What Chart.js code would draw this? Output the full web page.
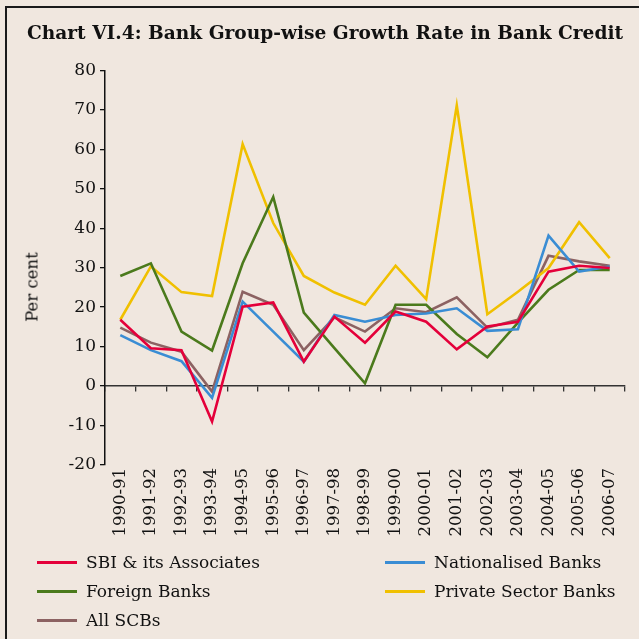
<!DOCTYPE html>
<html><head><meta charset="utf-8">
<script src="https://cdn.jsdelivr.net/npm/chart.js@4"></script>
<style>
html,body{margin:0;padding:0;background:#F0E7DF;}
#wrap{position:relative;width:639px;height:639px;overflow:hidden;background:#F0E7DF;}
#frame{position:absolute;left:5px;top:6px;width:700px;height:700px;border-top:2px solid #1a1a1a;border-left:2px solid #1a1a1a;}
canvas{position:absolute;left:0;top:0;}
#ytitle{position:absolute;left:32px;top:287px;transform:translate(-50%,-50%) rotate(-90deg);font:16.5px 'DejaVu Serif';color:#111;white-space:nowrap;}
.leg{position:absolute;font:17px 'DejaVu Serif';color:#111;white-space:nowrap;display:flex;align-items:center;height:24px;}
.leg .l{display:inline-block;width:40px;height:3px;margin-right:9px;}
</style></head>
<body>
<div id="wrap">
<div id="frame"></div>
<canvas id="c" width="639" height="639"></canvas>
<div id="ytitle">Per cent</div>
<div id="legend"></div>
</div>
<script>
const categories = ['1990-91','1991-92','1992-93','1993-94','1994-95','1995-96','1996-97','1997-98','1998-99','1999-00','2000-01','2001-02','2002-03','2003-04','2004-05','2005-06','2006-07'];
const sbi          = [16.8, 9.6, 9.1, -9.0, 20.1, 21.2, 6.2, 17.6, 11.0, 18.9, 16.3, 9.3, 15.1, 16.3, 29.0, 30.5, 29.9];
const nationalised = [12.9, 9.1, 6.3, -3.0, 21.4, 13.8, 6.2, 18.0, 16.3, 18.0, 18.4, 19.7, 14.0, 14.4, 38.1, 29.0, 30.3];
const foreign      = [27.9, 31.1, 13.8, 9.0, 31.1, 47.9, 18.6, 9.6, 0.7, 20.6, 20.6, 13.2, 7.3, 16.1, 24.4, 29.4, 29.4];
const privateSector= [16.8, 30.3, 23.8, 22.8, 61.3, 41.3, 27.9, 23.7, 20.6, 30.5, 22.0, 71.1, 18.2, 23.9, 29.9, 41.5, 32.4];
const allSCBs      = [14.8, 11.0, 8.7, -1.4, 23.9, 20.6, 9.1, 17.4, 13.8, 19.7, 18.7, 22.5, 14.8, 16.8, 33.0, 31.6, 30.5];
const yMin = -20, yMax = 80, yStep = 10;
const titleText = 'Chart VI.4: Bank Group-wise Growth Rate in Bank Credit';

const series = [
  {name:'SBI & its Associates', data:sbi, color:'#E4003A'},
  {name:'Nationalised Banks', data:nationalised, color:'#3A8DD4'},
  {name:'Foreign Banks', data:foreign, color:'#4B7A1C'},
  {name:'Private Sector Banks', data:privateSector, color:'#F0C000'},
  {name:'All SCBs', data:allSCBs, color:'#8C6262'}
];

const font = 'DejaVu Serif';
new Chart(document.getElementById('c'), {
  type:'line',
  data:{
    labels:categories,
    datasets: series.map(s=>({label:s.name,data:s.data,borderColor:s.color,backgroundColor:s.color,borderWidth:2.6,pointRadius:0,tension:0,fill:false}))
  },
  options:{
    responsive:false, animation:false, devicePixelRatio:1,
    layout:{padding:{left:25,right:14,top:0,bottom:94}},
    plugins:{
      legend:{display:false}, tooltip:{enabled:false},
      title:{display:true,text:titleText,color:'#111',font:{family:font,size:18.6,weight:'bold'},padding:{top:23,bottom:25}}
    },
    scales:{
      x:{type:'category',offset:true,grid:{display:false,offset:true},border:{display:false},
         ticks:{autoSkip:false,maxRotation:90,minRotation:90,color:'#111',font:{family:font,size:16.5},padding:-5},
         afterFit:s=>{s.height=80;}},
      x0:{type:'category',axis:'x',labels:categories,position:{y:0},offset:true,
          grid:{display:true,offset:true,drawOnChartArea:false,drawTicks:true,tickLength:5,color:'#333',lineWidth:1.3},
          border:{display:true,color:'#333',width:1.5},ticks:{display:false}},
      y:{type:'linear',min:yMin,max:yMax,
         ticks:{stepSize:yStep,color:'#111',font:{family:font,size:17},padding:4},
         grid:{drawOnChartArea:false,drawTicks:true,tickLength:5,color:'#111',lineWidth:1.3},
         border:{display:true,color:'#111',width:1.5},
         afterFit:s=>{s.width=80;}}
    }
  }
});

const legendPos = [[37,562],[385,562],[37,591],[385,591],[37,620]];
const leg = document.getElementById('legend');
series.forEach((s,i)=>{
  const d=document.createElement('div');d.className='leg';
  d.style.left=legendPos[i][0]+'px';d.style.top=(legendPos[i][1]-12)+'px';
  d.innerHTML='<span class="l" style="background:'+s.color+'"></span>';
  d.appendChild(document.createTextNode(s.name));
  leg.appendChild(d);
});
</script>
</body></html>
